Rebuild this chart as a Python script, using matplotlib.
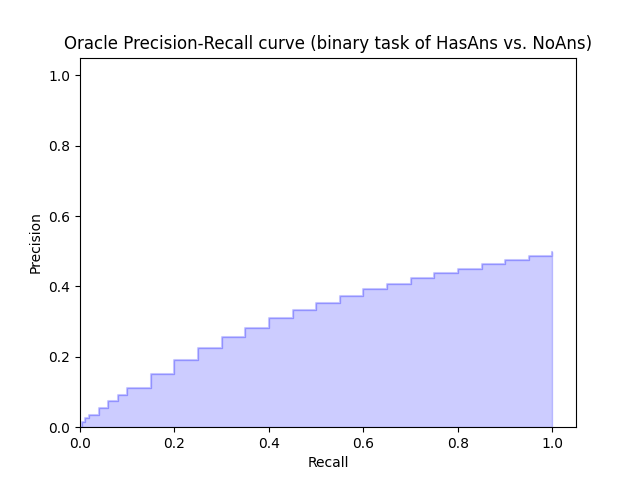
import matplotlib as mpl
mpl.use('Agg')
import matplotlib.pyplot as plt

# values
recalls = [0.0, 0.005, 0.01, 0.02, 0.04, 0.06, 0.08, 0.1, 0.15, 0.2, 0.25, 0.3,
           0.35, 0.4, 0.45, 0.5, 0.55, 0.6, 0.65, 0.7, 0.75, 0.8, 0.85, 0.9,
           0.95, 1.0]
precisions = [0.0, 0.015, 0.025, 0.035, 0.055, 0.075, 0.092, 0.11, 0.152, 0.19,
              0.225, 0.255, 0.283, 0.31, 0.333, 0.354, 0.374, 0.392, 0.408,
              0.423, 0.437, 0.45, 0.463, 0.475, 0.487, 0.499]

fig = plt.figure(figsize=(6.4, 4.8), dpi=100)
plt.step(recalls, precisions, color='b', alpha=0.2, where='post')
plt.fill_between(recalls, precisions, step='post', alpha=0.2, color='b')
plt.xlabel('Recall')
plt.ylabel('Precision')
plt.xlim([0.0, 1.05])
plt.ylim([0.0, 1.05])
plt.title('Oracle Precision-Recall curve (binary task of HasAns vs. NoAns)')
fig.savefig('out.png')
